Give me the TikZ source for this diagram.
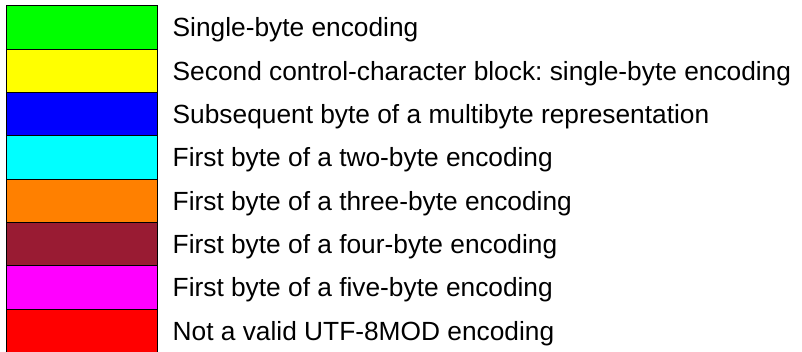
\documentclass[tikz,border=0pt]{standalone}
\usepackage{fontspec}
\setmainfont{Liberation Sans}
\frenchspacing
\definecolor{cGreen}{HTML}{00FF00}
\definecolor{cYellow}{HTML}{FFFF00}
\definecolor{cBlue}{HTML}{0000FF}
\definecolor{cCyan}{HTML}{00FFFF}
\definecolor{cOrange}{HTML}{FF8000}
\definecolor{cDarkRed}{HTML}{991B33}
\definecolor{cMagenta}{HTML}{FF00FF}
\definecolor{cRed}{HTML}{FF0000}
\tikzset{
  swatch/.style={draw=black, line width=1pt, minimum width=151pt, minimum height=43.33pt, inner sep=0pt, outer sep=0pt, anchor=north west},
  legendtext/.style={anchor=base west, inner sep=0pt, font=\fontsize{26.3pt}{30pt}\selectfont}
}
\begin{document}
\begin{tikzpicture}[x=1pt,y=-1pt]
\useasboundingbox (0,0) rectangle (802,352);
\begin{scope}
\clip (0,0) rectangle (802,352);
\foreach \c/\t [count=\i from 0] in {cGreen/Single-byte encoding,
  cYellow/Second control-character block: single-byte encoding,
  cBlue/Subsequent byte of a multibyte representation,
  cCyan/First byte of a two-byte encoding,
  cOrange/First byte of a three-byte encoding,
  cDarkRed/First byte of a four-byte encoding,
  cMagenta/First byte of a five-byte encoding,
  cRed/Not a valid UTF-8MOD encoding}{
  \node[swatch, fill=\c] (s\i) at (6.5, 6+43.33*\i) {};
  \node[legendtext] (t\i) at (172.5, 37+43.33*\i) {\t};
}
\end{scope}
\end{tikzpicture}
\end{document}
